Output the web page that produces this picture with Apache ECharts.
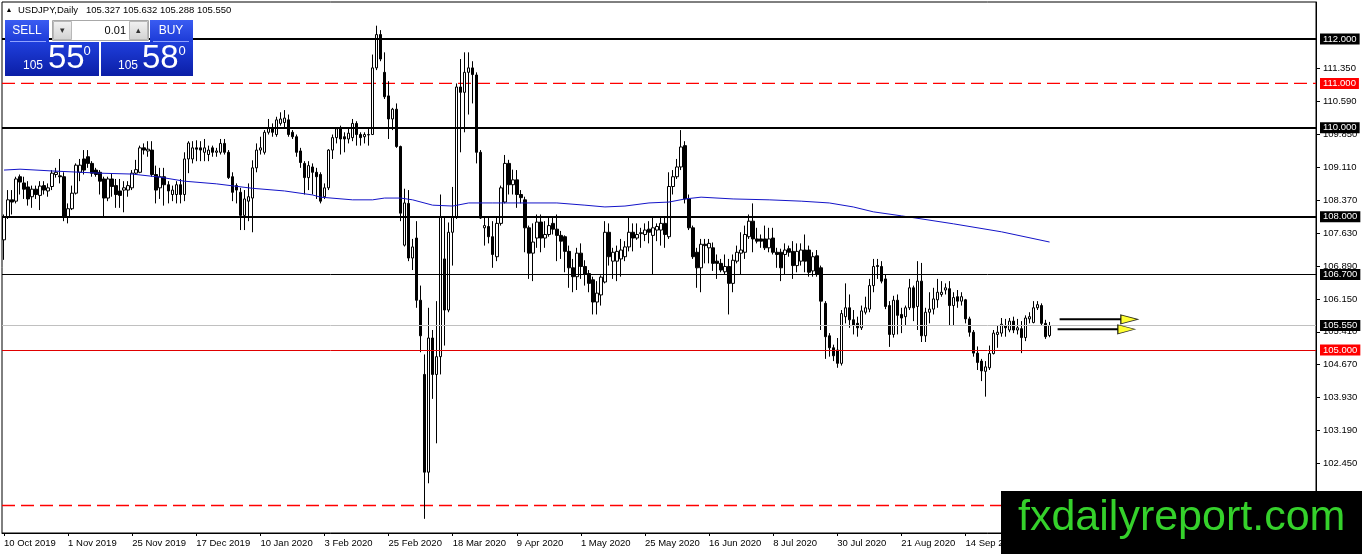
<!DOCTYPE html>
<html><head><meta charset="utf-8">
<script src="https://cdn.jsdelivr.net/npm/echarts@6/dist/echarts.min.js"></script>
<style>html,body{margin:0;padding:0;background:#fff}#c{width:1362px;height:554px}</style>
</head><body><div id="c"></div>
<script>
const dateLabels = ['10 Oct 2019','1 Nov 2019','25 Nov 2019','17 Dec 2019','10 Jan 2020','3 Feb 2020','25 Feb 2020','18 Mar 2020','9 Apr 2020','1 May 2020','25 May 2020','16 Jun 2020','8 Jul 2020','30 Jul 2020','21 Aug 2020','14 Sep 2020','6 Oct 2020'];

const opens = [
107.48,107.99,108.38,108.35,108.90,108.76,108.67,108.45,108.62,108.48,
108.70,108.58,108.68,108.95,108.92,108.90,108.00,108.18,108.53,109.00,
109.30,109.35,109.20,109.05,109.00,108.85,108.42,108.85,108.70,108.58,
108.60,108.60,108.65,108.98,109.00,109.55,109.48,109.50,108.95,108.65,
108.90,108.72,108.50,108.50,108.72,108.50,109.30,109.30,109.55,109.55,
109.45,109.40,109.55,109.45,109.45,109.65,109.45,108.90,108.70,108.55,
108.03,108.35,108.42,109.10,109.50,109.45,109.90,110.00,109.85,110.10,
110.12,110.18,109.90,109.80,109.48,109.20,108.88,109.12,109.00,108.95,
108.45,108.65,109.50,109.78,109.98,109.80,109.75,109.78,110.10,109.85,
109.80,109.84,109.85,111.35,112.10,111.25,110.72,110.20,110.42,109.58,
107.36,108.30,107.07,107.52,106.12,104.45,102.25,105.27,104.45,104.85,
107.05,105.90,107.65,108.00,110.92,110.80,111.25,111.35,111.19,109.45,
107.75,107.78,107.55,107.10,107.85,108.33,109.20,108.72,108.83,108.50,
108.38,107.75,107.18,107.52,107.88,107.52,107.60,107.85,107.72,107.58,
107.55,107.22,106.85,106.65,107.18,106.88,106.72,106.58,106.08,106.24,
106.53,107.65,107.00,107.00,107.05,107.10,107.32,107.65,107.52,107.62,
107.60,107.72,107.58,107.70,107.70,107.85,107.55,108.68,108.90,109.12,
109.60,108.40,107.75,107.20,106.85,107.38,107.30,107.30,107.00,106.95,
106.76,106.88,106.50,107.00,107.18,107.20,107.55,107.90,107.50,107.50,
107.50,107.30,107.52,107.20,107.20,107.15,107.28,107.22,106.90,107.00,
107.25,107.25,106.78,107.12,106.85,106.05,105.32,105.05,105.00,104.70,
105.75,105.95,105.68,105.60,105.50,105.85,105.92,106.45,106.90,106.88,
106.60,106.00,105.35,106.12,105.80,105.75,105.95,106.40,105.98,106.55,
105.32,105.85,105.92,106.13,106.25,106.35,106.38,106.00,106.20,106.10,
106.13,105.70,105.40,104.93,104.75,104.52,104.60,104.92,105.35,105.38,
105.55,105.45,105.65,105.45,105.48,105.28,105.70,105.62,105.95,106.00,
105.60,105.327];

const highs = [
108.05,108.60,108.60,108.90,108.95,108.90,108.80,108.70,108.70,108.80,
108.80,108.75,109.05,109.10,109.30,109.00,108.30,108.70,109.20,109.30,
109.50,109.50,109.25,109.10,109.05,108.90,108.90,108.98,108.85,108.85,
108.80,108.80,109.05,109.28,109.60,109.65,109.70,109.70,109.15,109.10,
109.10,108.80,108.70,108.80,108.85,109.45,109.70,109.70,109.72,109.70,
109.75,109.60,109.60,109.55,109.75,109.75,109.50,109.00,108.75,108.65,
108.60,108.75,109.27,109.65,109.80,109.95,110.20,110.10,110.25,110.35,
110.40,110.30,109.95,109.85,109.55,109.25,109.25,109.20,109.10,109.00,
108.75,109.52,109.85,110.00,110.05,109.90,110.00,110.20,110.15,109.90,
109.90,110.00,111.65,112.30,112.20,111.70,111.05,110.45,110.55,109.60,
108.63,108.60,107.50,107.90,106.45,104.90,105.95,105.45,106.10,108.50,
108.00,107.87,108.67,111.00,111.55,111.70,111.70,111.50,111.25,109.50,
108.00,108.00,107.90,108.00,108.70,109.39,109.28,109.06,109.05,108.60,
108.45,107.80,107.85,108.05,108.05,107.90,108.00,108.00,108.05,107.68,
107.58,107.35,107.05,107.30,107.40,107.02,106.80,106.65,106.55,106.68,
107.90,107.85,107.30,107.35,107.50,107.45,108.00,107.85,107.85,107.75,
107.85,107.90,108.00,107.85,108.00,108.00,109.00,109.05,109.30,109.95,
109.70,108.50,107.80,107.30,107.50,107.50,107.50,107.42,107.15,107.05,
107.15,107.05,107.15,107.35,107.65,107.80,108.05,108.30,107.75,107.60,
107.80,107.75,107.75,107.30,107.28,107.40,107.35,107.45,107.40,107.40,
107.60,107.35,107.20,107.25,106.90,106.10,105.38,105.12,105.27,105.90,
106.50,106.25,105.90,105.75,106.00,106.20,106.60,107.05,107.05,107.00,
106.70,106.10,106.22,106.25,105.95,106.00,106.60,106.45,107.00,106.96,
105.95,106.30,106.40,106.60,106.55,106.50,106.55,106.30,106.35,106.30,
106.15,105.75,105.45,105.08,104.80,104.75,105.10,105.45,105.55,105.72,
105.70,105.72,105.75,105.70,105.65,105.78,105.85,106.10,106.10,106.05,
105.68,105.632];

const lows = [
107.03,107.95,108.05,108.30,108.50,108.40,108.25,108.20,108.40,108.15,
108.50,108.45,108.60,108.88,108.75,107.90,107.85,108.15,108.50,108.80,
108.95,109.10,108.90,108.90,108.50,108.00,108.35,108.45,108.20,108.20,
108.10,108.45,108.60,108.95,108.98,109.40,109.35,108.90,108.30,108.40,
108.25,108.30,108.35,108.30,108.30,108.35,108.98,109.20,109.25,109.25,
109.25,109.25,109.35,109.35,109.40,109.40,108.85,108.35,108.30,107.70,
107.70,107.90,107.65,109.00,109.40,109.40,109.85,109.80,109.80,110.05,
110.00,109.80,109.75,109.35,109.10,108.50,108.60,108.50,108.40,108.30,
108.40,108.60,109.30,109.65,109.40,109.45,109.65,109.70,109.60,109.60,
109.65,109.60,109.85,111.30,111.50,110.65,109.75,109.95,109.55,107.90,
107.33,107.00,106.80,105.95,104.95,101.20,102.00,103.90,102.90,104.45,
105.10,105.85,106.90,107.95,109.45,109.90,110.30,110.55,109.20,107.95,
107.35,107.40,106.85,107.00,107.80,108.30,108.50,108.50,108.20,108.30,
107.20,106.60,106.55,107.30,107.20,107.30,107.55,107.60,107.00,107.05,
106.75,106.40,106.30,106.35,106.60,106.45,106.30,105.80,105.80,106.00,
106.50,106.90,106.60,106.55,106.65,107.00,107.22,107.22,107.48,107.30,
107.45,107.40,106.70,107.45,107.35,107.30,107.50,108.50,108.85,109.05,
108.30,107.70,107.05,106.40,106.30,106.95,106.95,106.78,106.60,106.75,
106.70,105.80,106.30,106.95,106.70,107.05,107.50,107.20,107.40,107.30,
107.25,107.20,107.15,106.85,106.55,106.70,107.10,106.60,106.75,106.90,
106.75,106.65,106.65,106.65,105.45,104.80,104.85,104.75,104.60,104.65,
105.60,105.50,105.35,105.30,105.45,105.80,105.85,106.30,106.60,106.50,
105.92,105.07,105.28,105.35,105.38,105.55,105.90,105.65,105.45,105.18,
105.18,105.60,105.80,105.95,106.20,106.25,105.55,105.55,105.95,106.00,
105.60,105.30,104.85,104.55,104.30,103.95,104.55,104.90,105.05,105.30,
105.30,105.40,105.38,105.35,104.93,105.20,105.60,105.60,105.90,105.55,
105.25,105.288];

const closes = [
108.00,108.38,108.33,108.85,108.78,108.62,108.40,108.62,108.50,108.69,
108.60,108.65,108.98,109.00,108.90,108.00,108.18,108.53,109.16,109.16,
109.05,109.20,108.98,108.95,108.80,108.42,108.85,108.68,108.50,108.48,
108.65,108.70,108.98,109.06,109.55,109.50,109.52,108.95,108.60,108.90,
108.72,108.58,108.60,108.72,108.50,109.30,109.66,109.55,109.52,109.50,
109.55,109.50,109.45,109.48,109.65,109.45,108.88,108.55,108.60,108.03,
108.40,108.45,109.10,109.50,109.55,109.90,110.00,109.90,110.18,110.20,
110.22,109.85,109.80,109.45,109.22,108.88,109.15,109.00,108.90,108.35,
108.65,109.50,109.78,109.98,109.75,109.75,109.88,110.10,109.85,109.78,
109.85,109.85,111.35,112.10,111.55,110.70,110.20,110.42,109.58,108.08,
108.31,107.07,107.32,106.12,105.32,102.25,105.27,104.45,104.85,107.99,
105.90,107.65,108.00,110.92,110.80,111.25,111.35,111.20,109.45,107.97,
107.80,107.55,107.15,107.85,108.65,109.20,108.72,108.83,108.50,108.43,
107.75,107.18,107.43,107.88,107.52,107.60,107.80,107.72,107.58,107.45,
107.22,106.85,106.65,107.18,106.88,106.70,106.50,106.08,106.28,106.64,
107.65,107.10,107.20,107.22,107.25,107.32,107.65,107.52,107.60,107.64,
107.70,107.65,107.75,107.78,107.85,107.60,108.68,108.90,109.12,109.57,
108.40,107.75,107.10,106.85,107.38,107.35,107.40,106.95,106.95,106.80,
106.88,106.50,107.02,107.20,107.25,107.60,107.90,107.50,107.45,107.45,
107.30,107.50,107.20,107.15,106.85,107.25,107.20,106.90,107.22,107.25,
107.00,106.75,107.10,106.70,106.10,105.30,105.05,104.87,104.70,105.82,
105.95,105.68,105.55,105.50,105.88,105.95,106.45,106.88,106.88,106.55,
105.98,105.35,106.12,105.78,105.72,105.95,106.40,105.95,106.55,105.32,
105.85,105.92,106.15,106.30,106.30,106.40,106.00,106.18,106.10,106.20,
105.70,105.40,104.93,104.72,104.53,104.62,104.92,105.38,105.40,105.58,
105.50,105.65,105.45,105.50,105.28,105.72,105.75,105.95,106.02,105.60,
105.30,105.55];

const maBars = [0,4,12,24,32,39,45,53,62,70,77,79,87,92,95,99,102,107,112,116,122,130,138,145,150,155,161,166,170,174,182,191,199,206,212,217,224,237,249,261];
const maValues = [109.05,109.07,109.03,108.98,108.96,108.89,108.80,108.74,108.64,108.58,108.49,108.44,108.38,108.38,108.42,108.42,108.38,108.26,108.24,108.31,108.31,108.31,108.31,108.26,108.22,108.24,108.31,108.33,108.40,108.44,108.40,108.38,108.35,108.31,108.22,108.11,108.02,107.84,107.66,107.43];

const levelPrices = [112.0, 111.0, 110.0, 108.0, 106.7, 105.55, 105.0, 101.5];
const yTickValues = [111.35,110.59,109.85,109.11,108.37,107.63,106.89,106.15,105.41,104.67,103.93,103.19,102.45,101.71];

const arrowStart = [263.5, 263.0];
const arrowTip = [283.0, 282.25];
const arrowPrice = [105.69, 105.466];

const bidPrice = 105.550;
const askPrice = 105.580;

// ---------- styles / layout ----------
const N_SLOTS = 328;
const Y_MIN = 100.881, Y_MAX = 112.833;
const FONT = 'Liberation Sans, Arial, sans-serif';
const cats = Array.from({length: N_SLOTS}, (_, i) => String(i));
const candleData = opens.map((o, i) => [o, closes[i], lows[i], highs[i]]);

const levelStyles = [
  {color:'#000', width:2, dash:null, bg:'#000'},
  {color:'#ff0000', width:1.3, dash:[13,6], bg:'#ff0000'},
  {color:'#000', width:2, dash:null, bg:'#000'},
  {color:'#000', width:2, dash:null, bg:'#000'},
  {color:'#000', width:1, dash:null, bg:'#000'},
  {color:'#c0c0c0', width:1, dash:null, bg:'#000'},
  {color:'#e00000', width:1, dash:null, bg:'#ff0000'},
  {color:'#ff0000', width:1.3, dash:[13,6], bg:null}
];

const markLineData = levelPrices.map((p, i) => {
  const s = levelStyles[i];
  return {
    yAxis: p,
    lineStyle: {color: s.dash ? 'rgba(0,0,0,0)' : s.color, width: s.width, type: 'solid'},
    label: s.bg ? {
      show: true, position: 'end', distance: 4,
      formatter: () => p.toFixed(3),
      color: '#fff', backgroundColor: s.bg, padding: [1, 3, 0, 3],
      fontSize: 9.5, fontFamily: FONT, lineHeight: 10
    } : {show: false}
  };
});

const dashedSeries = levelPrices.map((p, i) => ({p, s: levelStyles[i]})).filter(o => o.s.dash).map(o => ({
  type: 'line', xAxisIndex: 1, silent: true, symbol: 'none',
  color: o.s.color,
  data: [[-0.5, o.p], [N_SLOTS - 0.5, o.p]],
  lineStyle: {color: o.s.color, width: o.s.width, type: o.s.dash}, z: 2
}));

const arrowSeries = [];
arrowStart.forEach((st, k) => {
  arrowSeries.push({
    type: 'line', xAxisIndex: 1, silent: true, symbol: 'none',
    data: [[st, arrowPrice[k]], [arrowTip[k] - 4.2, arrowPrice[k]]],
    lineStyle: {color: '#000', width: 2}, z: 5
  });
  arrowSeries.push({
    type: 'scatter', xAxisIndex: 1, silent: true,
    data: [[arrowTip[k] - 2.1, arrowPrice[k]]],
    symbol: 'triangle', symbolSize: [9, 17], symbolRotate: -90,
    itemStyle: {color: '#ffff00', borderColor: '#000', borderWidth: 1}, z: 6
  });
});

function splitPrice(p) {
  const s = p.toFixed(3);
  return {big: s.slice(0, 3), main: s.slice(4, 6), sup: s.slice(6)};
}
const bidParts = splitPrice(bidPrice), askParts = splitPrice(askPrice);
const last = opens.length - 1;
const headerText = [opens[last], highs[last], lows[last], closes[last]].map(v => v.toFixed(3)).join(' ');

const G = echarts.graphic;
const labelGrad = () => new G.LinearGradient(0, 0, 0, 1, [{offset:0,color:'#3a5cf2'},{offset:1,color:'#1c3ad6'}]);
const priceGrad = () => new G.LinearGradient(0, 0, 0, 1, [{offset:0,color:'#1f3fdc'},{offset:1,color:'#0b1ea6'}]);
const btnGrad = () => new G.LinearGradient(0, 0, 0, 1, [{offset:0,color:'#f2f2f2'},{offset:1,color:'#d2d2d2'}]);

const txt = (x, y, text, size, fill, align, extra) => Object.assign({
  type: 'text', x, y, z: 100,
  style: {text, fontSize: size, fontFamily: FONT, fill, align: align || 'left', verticalAlign: 'middle'}
}, extra || {});

const graphics = [
  txt(9, 10, '▲', 7, '#000', 'center'),
  txt(18, 10, 'USDJPY,Daily', 9.5, '#000'),
  txt(86, 10, headerText, 9.5, '#000'),
  {type:'rect', z:100, shape:{x:5,y:20,width:44,height:22}, style:{fill:labelGrad()}},
  {type:'rect', z:100, shape:{x:5,y:42,width:94,height:34}, style:{fill:priceGrad()}},
  {type:'rect', z:100, shape:{x:150,y:20,width:43,height:22}, style:{fill:labelGrad()}},
  {type:'rect', z:100, shape:{x:101,y:42,width:92,height:34}, style:{fill:priceGrad()}},
  {type:'line', z:101, shape:{x1:10,y1:41.5,x2:46,y2:41.5}, style:{stroke:'#8fa2ff',lineWidth:1}},
  {type:'line', z:101, shape:{x1:153,y1:41.5,x2:189,y2:41.5}, style:{stroke:'#8fa2ff',lineWidth:1}},
  {type:'rect', z:100, shape:{x:52.5,y:20.5,width:96,height:20}, style:{fill:'#fff',stroke:'#a8a8a8',lineWidth:1}},
  {type:'rect', z:101, shape:{x:53.5,y:21.5,width:18,height:18}, style:{fill:btnGrad(),stroke:'#b8b8b8',lineWidth:1}},
  {type:'rect', z:101, shape:{x:129.5,y:21.5,width:18,height:18}, style:{fill:btnGrad(),stroke:'#b8b8b8',lineWidth:1}},
  txt(62.5, 31, '▾', 9, '#333', 'center', {z:102}),
  txt(138.5, 31, '▴', 9, '#333', 'center', {z:102}),
  txt(126, 31, '0.01', 11, '#000', 'right', {z:102}),
  txt(27, 31, 'SELL', 12, '#fff', 'center', {z:102}),
  txt(171, 31, 'BUY', 12, '#fff', 'center', {z:102}),
  txt(43, 66, bidParts.big, 12, '#fff', 'right', {z:102}),
  txt(48, 59, bidParts.main, 33, '#fff', 'left', {z:102}),
  txt(87, 51, bidParts.sup, 13, '#fff', 'center', {z:102}),
  txt(138, 66, askParts.big, 12, '#fff', 'right', {z:102}),
  txt(142, 59, askParts.main, 33, '#fff', 'left', {z:102}),
  txt(182, 51, askParts.sup, 13, '#fff', 'center', {z:102}),
  {type:'rect', z:110, shape:{x:1001,y:491,width:361,height:63}, style:{fill:'#000'}},
  txt(1018, 518, 'fxdailyreport.com', 43, '#35d12b', 'left', {z:111})
];

const chart = echarts.init(document.getElementById('c'), null, {renderer: 'canvas'});
chart.setOption({
  animation: false,
  backgroundColor: '#fff',
  grid: {left: 2, right: 46, top: 2, bottom: 21, show: true, borderColor: '#000', borderWidth: 1, backgroundColor: 'transparent'},
  xAxis: [
    {type: 'category', data: cats, boundaryGap: true,
     axisLine: {show: true, onZero: false, lineStyle: {color: '#000'}},
     axisTick: {show: true, length: 3, alignWithLabel: true, interval: (i) => i % 16 === 0, lineStyle: {color: '#000'}},
     axisLabel: {interval: (i) => i % 16 === 0, formatter: (v, i) => dateLabels[i / 16] || '',
       align: 'left', color: '#000', fontSize: 9.5, fontFamily: FONT, margin: 5, hideOverlap: false},
     splitLine: {show: false}},
    {type: 'value', min: -0.5, max: N_SLOTS - 0.5, show: false, axisLine: {onZero: false}}
  ],
  yAxis: {type: 'value', position: 'right', min: Y_MIN, max: Y_MAX,
    axisLine: {show: true, onZero: false, lineStyle: {color: '#000'}},
    axisTick: {show: true, length: 4, customValues: yTickValues, lineStyle: {color: '#000'}},
    axisLabel: {customValues: yTickValues, formatter: (v) => Number(v).toFixed(3), color: '#000', fontSize: 9.5, fontFamily: FONT, margin: 7},
    splitLine: {show: false}},
  series: [
    {type: 'candlestick', data: candleData, barWidth: 3, silent: true,
     itemStyle: {color: '#ffffff', color0: '#000000', borderColor: '#000000', borderColor0: '#000000', borderWidth: 1},
     markLine: {silent: true, symbol: ['none', 'none'], precision: 3, data: markLineData},
     z: 3},
    ...dashedSeries,
    {type: 'line', xAxisIndex: 1, silent: true, showSymbol: false, symbol: 'none',
     data: maBars.map((b, i) => [b, maValues[i]]),
     lineStyle: {color: '#1414c8', width: 1}, z: 4},
    ...arrowSeries
  ],
  graphic: graphics
});
</script></body></html>
